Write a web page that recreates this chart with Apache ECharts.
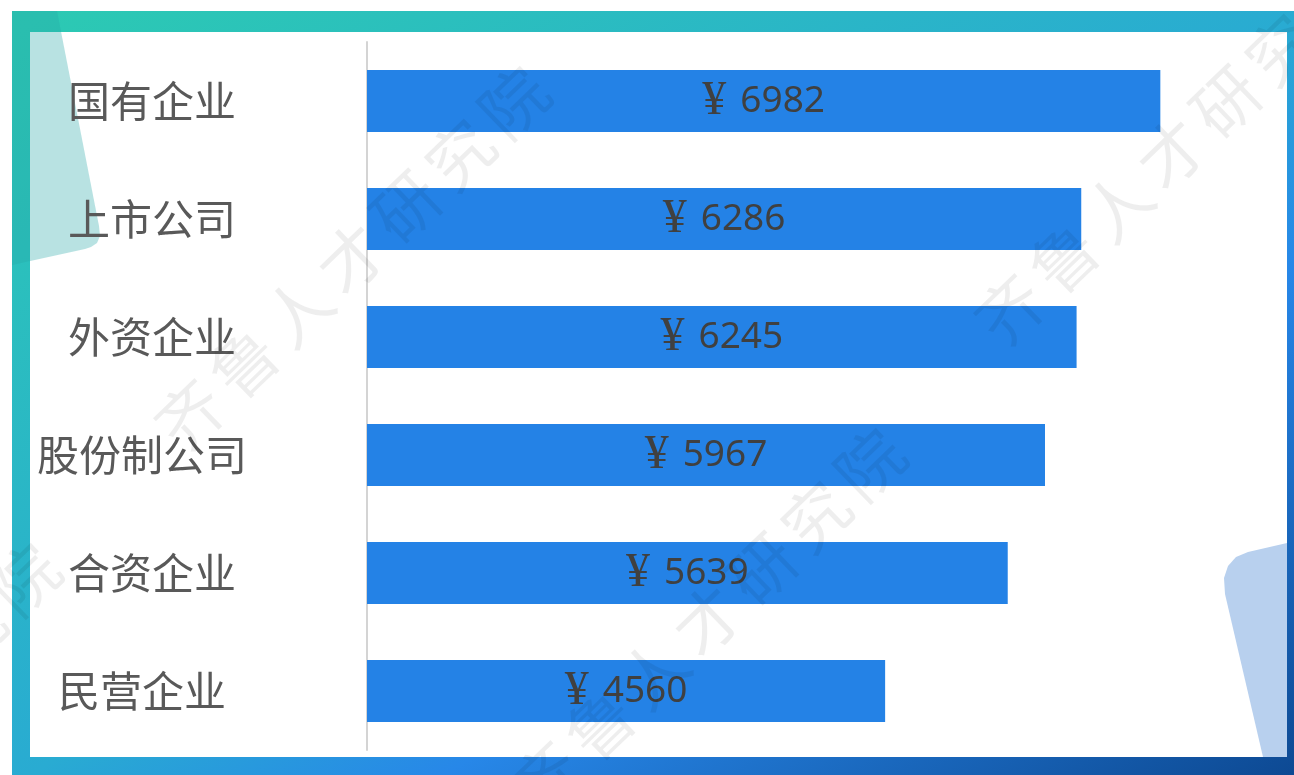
<!DOCTYPE html>
<html>
<head>
<meta charset="utf-8">
<title>企业类型平均薪资</title>
<script src="https://cdn.jsdelivr.net/npm/echarts@6/dist/echarts.min.js"></script>
<style>
  html, body { margin: 0; padding: 0; background: #ffffff; }
  #chart { width: 1294px; height: 775px; }
</style>
</head>
<body>
<div id="chart"></div>
<script>
// Enterprise types, top to bottom
const categories = ['国有企业', '上市公司', '外资企业', '股份制公司', '合资企业', '民营企业'];
// Average monthly salary (yuan)
const salaries = [6982, 6286, 6245, 5967, 5639, 4560];
const currencySign = '¥';
const watermarkText = '齐鲁人才研究院';

// Small horizontal nudges for a couple of category labels (px, leftwards)
const labelShift = { '股份制公司': 9, '民营企业': 11 };

const chart = echarts.init(document.getElementById('chart'), null, { renderer: 'canvas' });

// Watermark strings placed along a 44° diagonal, anchored at their first character
function watermark(x, y) {
  const chars = watermarkText.split('');
  return {
    type: 'group',
    x: x,
    y: y,
    rotation: 44 * Math.PI / 180,
    z: 100,
    silent: true,
    children: chars.map((ch, i) => ({
      type: 'text',
      x: i * 75,
      y: 0,
      z: 100,
      style: {
        text: ch,
        fill: 'rgba(0,0,0,0.065)',
        font: '66px "Noto Sans CJK SC", sans-serif',
        align: 'center',
        verticalAlign: 'middle'
      }
    }))
  };
}

// Frame gradient runs diagonally so both off-diagonal corners share the mid tone
const frameGradient = new echarts.graphic.LinearGradient(12, 11, 12 + 683, 11 + 1141, [
  { offset: 0, color: '#2ccab2' },
  { offset: 0.5, color: '#29abd2' },
  { offset: 0.66, color: '#2787e8' },
  { offset: 1, color: '#0c4790' }
], true);

const graphics = [
  // gradient frame
  {
    type: 'rect', z: -20, silent: true,
    shape: { x: 12, y: 11, width: 1294, height: 775 },
    style: { fill: frameGradient }
  },
  // white panel
  {
    type: 'rect', z: -19, silent: true,
    shape: { x: 30, y: 32, width: 1257, height: 725 },
    style: { fill: '#ffffff' }
  },
  // teal translucent accent, upper left
  {
    type: 'polygon', z: -18, silent: true,
    shape: {
      points: [[12, 11], [57, 11], [99, 226], [100, 236], [97, 243], [91, 247], [85, 249], [12, 265]]
    },
    style: { fill: 'rgba(40,168,168,0.33)' }
  },
  // pale blue accent, lower right
  {
    type: 'polygon', z: -18, silent: true,
    shape: {
      points: [[1287, 543], [1248, 552], [1236, 557], [1228, 566], [1224, 578], [1225, 594], [1263, 757], [1287, 757]]
    },
    style: { fill: '#b8d0ee' }
  },
  watermark(190, 415),
  watermark(1010, 310),
  watermark(546, 777),
  watermark(-299, 892)
];

const option = {
  animation: false,
  backgroundColor: '#ffffff',
  graphic: graphics,
  grid: {
    left: 367, top: 42, width: 909, height: 708,
    containLabel: false,
    outerBoundsMode: 'none'
  },
  xAxis: {
    type: 'value',
    min: 0,
    max: 8000,
    show: false
  },
  yAxis: {
    type: 'category',
    inverse: true,
    data: categories,
    axisLine: { show: true, lineStyle: { color: '#d4d4d4', width: 2 } },
    axisTick: { show: false },
    splitLine: { show: false },
    axisLabel: {
      margin: 215,
      align: 'center',
      color: '#595959',
      fontSize: 42,
      fontFamily: '"Noto Sans CJK SC", sans-serif',
      formatter: c => labelShift[c] ? '{s|' + c + '}' : c,
      rich: {
        s: {
          color: '#595959',
          fontSize: 42,
          fontFamily: '"Noto Sans CJK SC", sans-serif',
          padding: [0, 20, 0, 0]
        }
      }
    }
  },
  series: [{
    type: 'bar',
    data: salaries,
    barWidth: 62,
    itemStyle: { color: '#2482e6' },
    label: {
      show: true,
      position: 'inside',
      formatter: p => '{y|' + currencySign + '}{v|' + p.value + '}',
      rich: {
        y: {
          color: '#404040',
          fontSize: 48,
          fontFamily: '"Liberation Serif", serif',
          padding: [0, 14, 0, 0]
        },
        v: {
          color: '#404040',
          fontSize: 37,
          fontFamily: '"Noto Sans", "Open Sans", sans-serif'
        }
      }
    }
  }]
};

chart.setOption(option);
</script>
</body>
</html>
